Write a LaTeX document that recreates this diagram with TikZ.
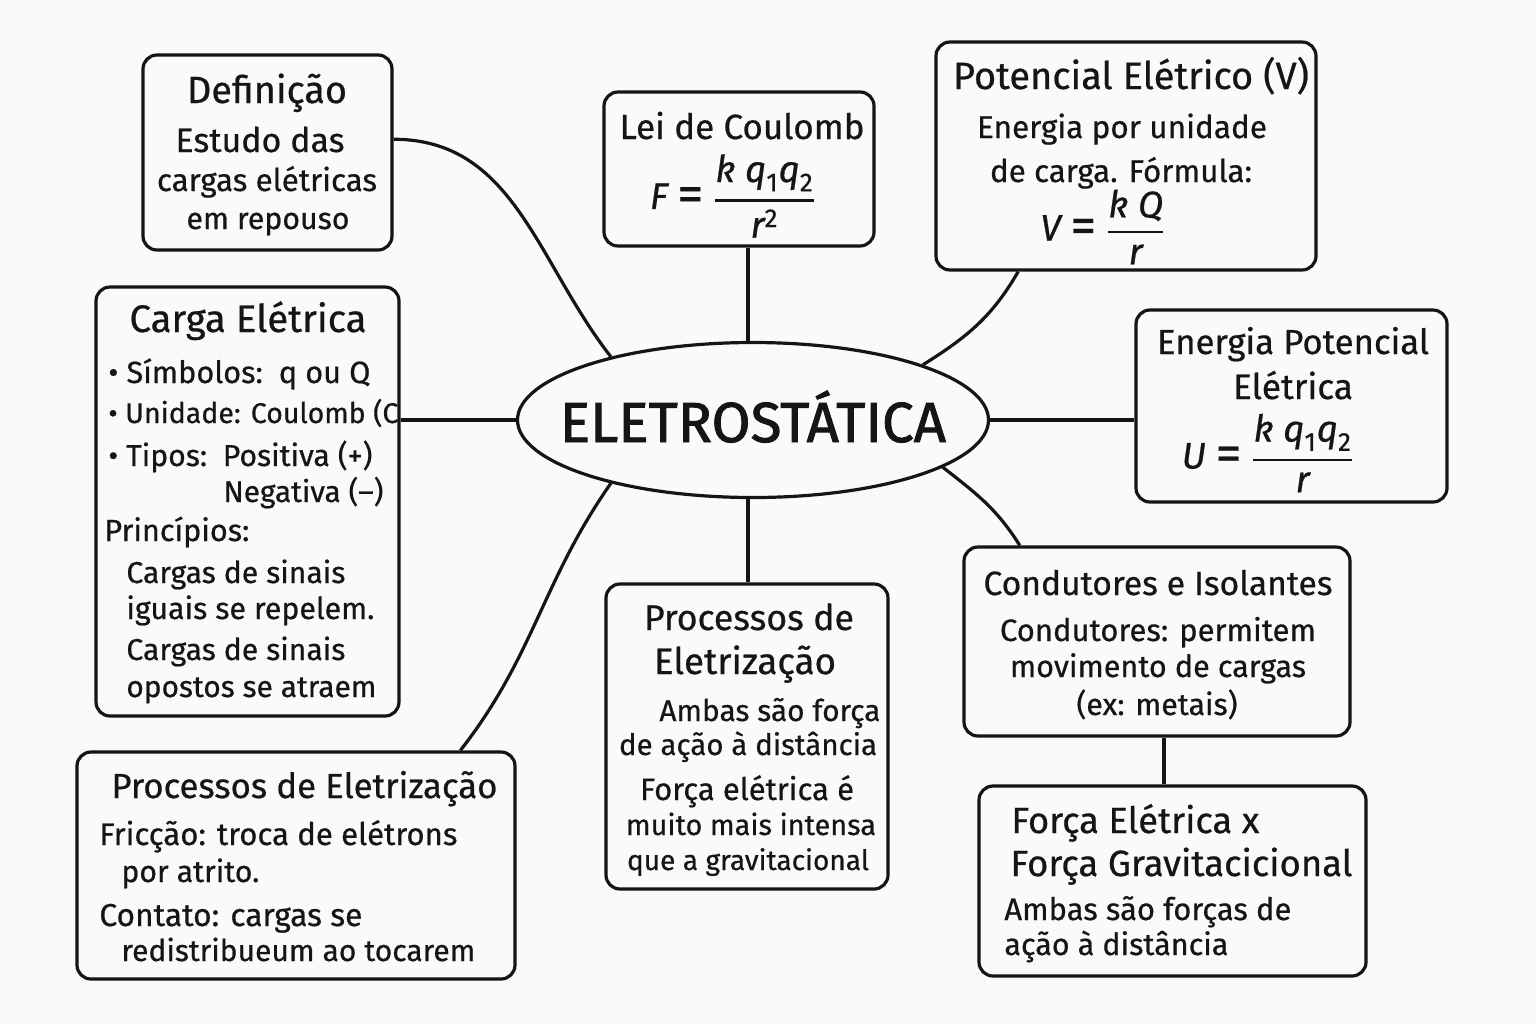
\documentclass[tikz,border=0pt]{standalone}
\usepackage{fontspec}
\usepackage{amsmath}
\usepackage{graphicx}
\setmainfont{Fira Sans}[FakeBold=0.6]
\newfontfamily\heavy{Fira Sans}[FakeBold=1.6]
\usetikzlibrary{shapes.geometric}
\definecolor{bg}{HTML}{FAFAF8}
\definecolor{ink}{HTML}{151515}
\newcommand\fw[2]{\resizebox{#1pt}{!}{#2}}
\newcommand\fq[1]{\text{\itshape #1}}
\newcommand\eqs{\mathrel{\raisebox{-0.12ex}{\scalebox{1.4}{=}}}}
\newcommand\fr[2]{\genfrac{}{}{1.3pt}{0}{#1}{#2}}
\begin{document}
\begin{tikzpicture}[x=0.5pt,y=-0.5pt,
  box/.style={draw=ink, line width=1.6pt, rounded corners=7pt, fill=bg, inner sep=0pt},
  conn/.style={draw=ink, line width=1.6pt},
  tx/.style={text=ink, inner sep=0pt, anchor=base, font=\fontsize{15}{18}\selectfont},
  tl/.style={tx, anchor=base west},
  fm/.style={text=ink, inner sep=0pt, font=\fontsize{18.5}{22}\selectfont}]
\fill[bg] (0,0) rectangle (1536,1024);
\useasboundingbox (0,0) rectangle (1536,1024);

% boxes
\node[box, minimum width=124.5pt, minimum height=97.5pt] (def) at (267.5,152.5) {};
\node[box, minimum width=135pt, minimum height=77pt] (lei) at (739,169) {};
\node[box, minimum width=190pt, minimum height=114pt] (pot) at (1126,156) {};
\node[box, minimum width=155.5pt, minimum height=96pt] (ene) at (1291.5,406) {};
\node[box, minimum width=151.5pt, minimum height=214.5pt] (carga) at (247.5,501.5) {};
\node[box, minimum width=141pt, minimum height=152.5pt] (proc) at (747,736.5) {};
\node[box, minimum width=193pt, minimum height=94.5pt] (cond) at (1157,641.5) {};
\node[box, minimum width=193.5pt, minimum height=95pt] (forca) at (1172.5,881) {};
\node[box, minimum width=219pt, minimum height=113.5pt] (proc2) at (296,865.5) {};
\node[ellipse, draw=ink, line width=1.6pt, fill=bg, inner sep=0pt,
      minimum width=235.5pt, minimum height=77.5pt] (core) at (753,420) {};

% connectors
\draw[conn] (def.6) to[out=0, in=128] (core.156);
\draw[conn] ([xshift=-2.5pt]core.north) -- ([xshift=-2.5pt]core.north |- lei.south);
\draw[conn] (pot.227) to[out=240, in=32] (core.18);
\draw[conn] (core.east) -- (core.east -| ene.west);
\draw[conn] (core.west) -- (core.west -| carga.east);
\draw[conn] (core.204) to[out=235, in=52] (proc2.35.5);
\draw[conn] ([xshift=-2.5pt]core.south) -- ([xshift=-2.5pt]core.south |- proc.north);
\draw[conn] (core.346.5) to[out=-38, in=122] (cond.145.4);
\draw[conn] ([xshift=3.5pt]cond.south) -- ([xshift=3.5pt]cond.south |- forca.north);

% centre
\node[tx, font=\heavy\fontsize{25}{30}\selectfont] (ct) at (753,442) {\fw{193}{ELETROSTÁTICA}};

% Definicao
\node[tx] (d1) at (267,103) {\fw{80}{Definição}};
\node[tx] (d2) at (260,152) {\fw{84.5}{Estudo das}};
\node[tx] (d3) at (267,191) {\fw{110}{cargas elétricas}};
\node[tx] (d4) at (268,229) {\fw{81.5}{em repouso}};

% Lei de Coulomb
\node[tx] (l1) at (742,139) {\fw{122.5}{Lei de Coulomb}};
\node[fm] (l2) at (733,196) {$\fq{F} \eqs \fr{\fq{k}\;\fq{q}_{\text{1}}\fq{q}_{\text{2}}}{\fq{r}^{\text{2}}}$};

% Potencial eletrico
\node[tx] (p1) at (1131,89) {\fw{178}{Potencial Elétrico (V)}};
\node[tx] (p2) at (1122,138) {\fw{145}{Energia por unidade}};
\node[tx] (p3) at (1121,182) {\fw{131}{de carga. Fórmula:}};
\node[fm] (p4) at (1103,227) {$\fq{V} \eqs \fr{\fq{k}\;\fq{Q}}{\fq{r}}$};

% Energia potencial
\node[tx] (e1) at (1293,354) {\fw{136}{Energia Potencial}};
\node[tx] (e2) at (1293,399) {\fw{60}{Elétrica}};
\node[fm] (e3) at (1268,453) {$\fq{U} \eqs \fr{\fq{k}\;\fq{q}_{\text{1}}\fq{q}_{\text{2}}}{\fq{r}}$};

% Carga eletrica
\node[tx] (c1) at (248,332) {\fw{118.5}{Carga Elétrica}};
\node[tl] (c2) at (108,383) {\fw{131}{• Símbolos:\, q ou Q}};
\node[tl] (c3) at (108,423) {\fw{145}{• Unidade: Coulomb (C}};
\node[tl] (c4) at (108,466) {\fw{132}{• Tipos:\, Positiva (+)}};
\node[tl] (c5) at (223,502) {\fw{80}{Negativa (–)}};
\node[tl] (c6) at (104,541) {\fw{72.5}{Princípios:}};
\node[tl] (c7) at (126,583) {\fw{109.5}{Cargas de sinais}};
\node[tl] (c8) at (126,619) {\fw{124}{iguais se repelem.}};
\node[tl] (c9) at (126,660) {\fw{109.5}{Cargas de sinais}};
\node[tl] (c10) at (126,697) {\fw{125}{opostos se atraem}};

% Processos (centre)
\node[tx] (r1) at (749,630) {\fw{105}{Processos de}};
\node[tx] (r2) at (745,674) {\fw{91}{Eletrização}};
\node[tl] (r3) at (659,721) {\fw{110.5}{Ambas são força}};
\node[tx] (r4) at (748,755) {\fw{129}{de ação à distância}};
\node[tx] (r5) at (747,800) {\fw{107}{Força elétrica é}};
\node[tx] (r6) at (751,835) {\fw{125}{muito mais intensa}};
\node[tx] (r7) at (748,870) {\fw{121}{que a gravitacional}};

% Condutores
\node[tx] (k1) at (1158,595) {\fw{174.5}{Condutores e Isolantes}};
\node[tx] (k2) at (1158,641) {\fw{158}{Condutores: permitem}};
\node[tx] (k3) at (1158,677) {\fw{148}{movimento de cargas}};
\node[tx] (k4) at (1157,715) {\fw{80.5}{(ex: metais)}};

% Forca
\node[tl] (f1) at (1011,833) {\fw{124}{Força Elétrica x}};
\node[tl] (f2) at (1010,876) {\fw{171}{Força Gravitacicional}};
\node[tl] (f3) at (1004,920) {\fw{143.5}{Ambas são forças de}};
\node[tl] (f4) at (1004,955) {\fw{112}{ação à distância}};

% Processos (bottom left)
\node[tl] (q1) at (111,798) {\fw{193}{Processos de Eletrização}};
\node[tl] (q2) at (99,845) {\fw{179}{Fricção: troca de elétrons}};
\node[tl] (q3) at (121,882) {\fw{69}{por atrito.}};
\node[tl] (q4) at (99,926) {\fw{131.5}{Contato: cargas se}};
\node[tl] (q5) at (121,961) {\fw{177}{redistribueum ao tocarem}};
\end{tikzpicture}
\end{document}
